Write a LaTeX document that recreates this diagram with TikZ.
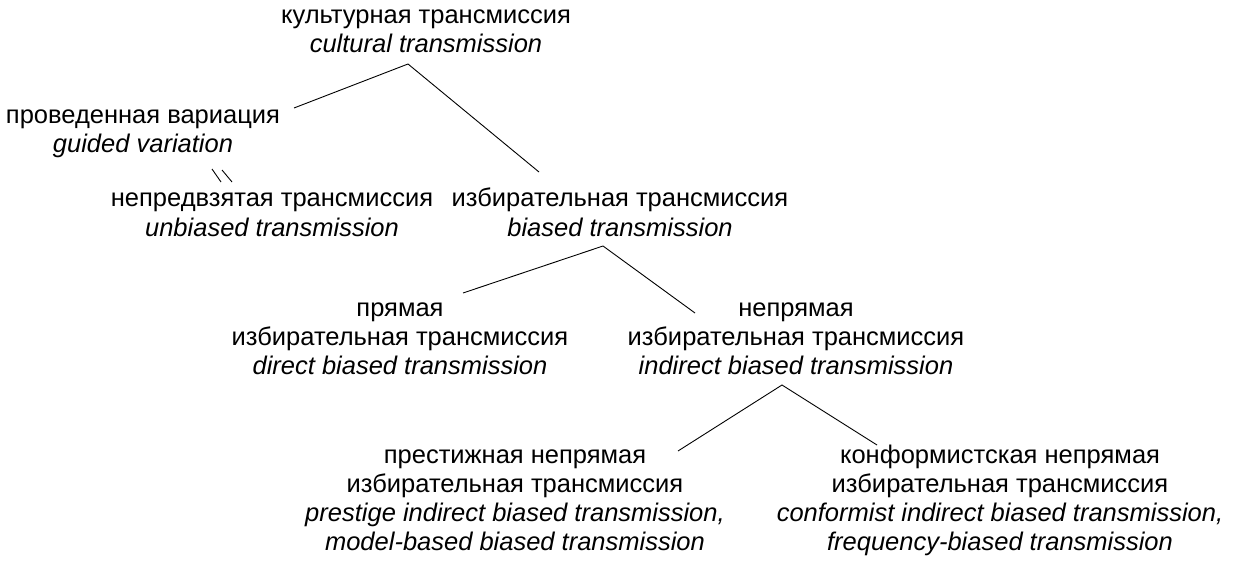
\documentclass[tikz,border=0pt]{standalone}
\usepackage{fontspec}
\setmainfont{Liberation Sans}
\begin{document}
\begin{tikzpicture}[x=1pt,y=-1pt,
  lbl/.style={align=center, anchor=base, inner sep=0pt, font=\fontsize{25.5}{29}\selectfont},
  edge/.style={line width=0.9pt, black}]
\fill[white] (0,0) rectangle (1244,564);
\useasboundingbox (0,0) rectangle (1244,564);
% anchor=base is the baseline of the last line of each block
\node[lbl] (root) at (426,53) {культурная трансмиссия\\\textit{cultural transmission}};
\node[lbl] (guided) at (143,153) {проведенная вариация\\\textit{guided variation}};
\node[lbl] (unbiased) at (272,236) {непредвзятая трансмиссия\\\textit{unbiased transmission}};
\node[lbl] (biased) at (620,236) {избирательная трансмиссия\\\textit{biased transmission}};
\node[lbl] (direct) at (400,374) {прямая\\избирательная трансмиссия\\\textit{direct biased transmission}};
\node[lbl] (indirect) at (796,374) {непрямая\\избирательная трансмиссия\\\textit{indirect biased transmission}};
\node[lbl] (prestige) at (515,550) {престижная непрямая\\избирательная трансмиссия\\\textit{prestige indirect biased transmission,}\\\textit{model-based biased transmission}};
\node[lbl] (conformist) at (1000,550) {конформистская непрямая\\избирательная трансмиссия\\\textit{conformist indirect biased transmission,}\\\textit{frequency-biased transmission}};
% connectors
\coordinate (r0) at (408,64);
\coordinate (r1) at (294,108);
\coordinate (r2) at (539,172);
\coordinate (b0) at (603,246);
\coordinate (b1) at (463,293);
\coordinate (b2) at (695,313);
\coordinate (i0) at (782,385);
\coordinate (i1) at (678,451);
\coordinate (i2) at (877,445);
\draw[edge] (r1) -- (r0) -- (r2);
\draw[edge] (b1) -- (b0) -- (b2);
\draw[edge] (i1) -- (i0) -- (i2);
% double slash between guided and unbiased
\coordinate (m1a) at (212,169);
\coordinate (m1b) at (221,182);
\coordinate (m2a) at (222,170);
\coordinate (m2b) at (232,182);
\draw[edge] (m1a) -- (m1b);
\draw[edge] (m2a) -- (m2b);
\end{tikzpicture}
\end{document}
